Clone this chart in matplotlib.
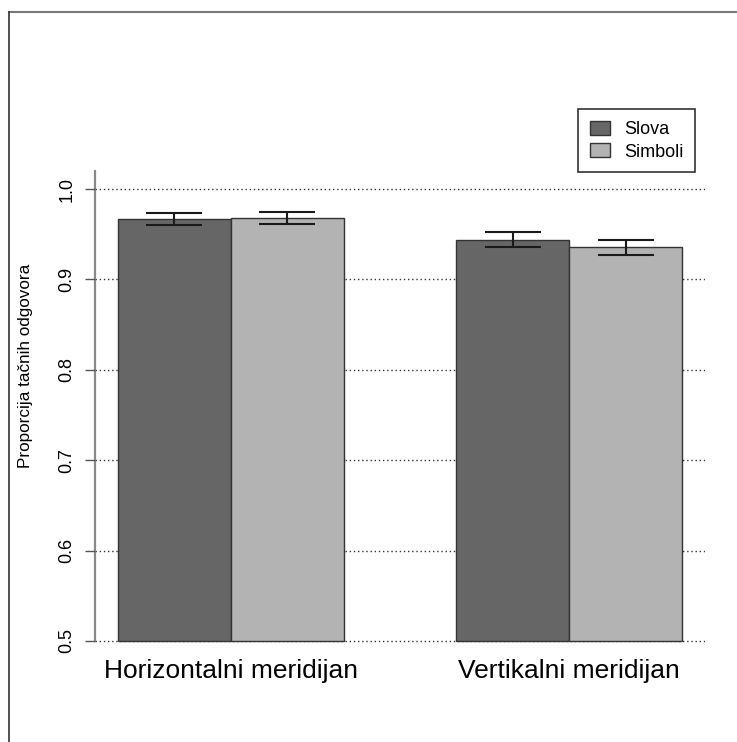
import numpy as np
import matplotlib
matplotlib.use("Agg")
import matplotlib.pyplot as plt
from matplotlib.patches import Patch
from matplotlib.lines import Line2D

plt.rcParams['font.family'] = ['Liberation Sans', 'DejaVu Sans']

# data
groups = ['Horizontalni meridijan', 'Vertikalni meridijan']
series = ['Slova', 'Simboli']
means = {'Slova': [0.967, 0.944], 'Simboli': [0.968, 0.9355]}
errs = {'Slova': [0.0063, 0.0081], 'Simboli': [0.0063, 0.0085]}
yticks = [0.5, 0.6, 0.7, 0.8, 0.9, 1.0]
colors = {'Slova': '#666666', 'Simboli': '#b3b3b3'}

W, H = 737, 742
fig = plt.figure(figsize=(W / 100, H / 100), dpi=100)
ax = fig.add_axes([95.4 / W, (H - 659) / H, (704.6 - 95.4) / W, (659 - 171) / H])
ax.set_xlim(0.8, 6.2)
ax.set_ylim(0.48, 1.02)

# dotted grid behind the bars
for yv in yticks:
    ax.axhline(yv, color='#333333', lw=1, ls=(0, (1, 2)), zorder=0)

# R barplot style positions: space=c(0,1)
for gi, g in enumerate(groups):
    for si, s in enumerate(series):
        left = 1 + gi * 3 + si
        ax.bar(left, means[s][gi] - 0.5, bottom=0.5, width=1, align='edge',
               color=colors[s], edgecolor='#333333', linewidth=1, zorder=2)
        ax.errorbar(left + 0.5, means[s][gi], yerr=errs[s][gi], fmt='none',
                    ecolor='#1a1a1a', elinewidth=1.5, capsize=20.5, capthick=1.5,
                    zorder=3)

for sp in ax.spines.values():
    sp.set_visible(False)
ax.add_line(Line2D([0.8, 0.8], [0.5, 1.02], color='#888888', lw=1.6,
                   transform=ax.transData, clip_on=False, zorder=1))
ax.set_yticks(yticks)
ax.set_yticklabels(['%.1f' % v for v in yticks], rotation=90, va='center',
                   fontsize=13)
ax.tick_params(axis='y', length=7.2, width=1, color='#555555', pad=7)
ax.set_xticks([])
ax.set_ylabel('Proporcija tačnih odgovora', fontsize=12.3)
ax.yaxis.set_label_coords((33 - 95.4) / 609.2, (659 - 366) / 488)

for gi, g in enumerate(groups):
    ax.text(2 + gi * 3, 0.48, g, ha='center', va='top', fontsize=19,
            transform=ax.transData)

handles = [Patch(facecolor=colors[s], edgecolor='#333333', lw=1) for s in series]
leg = ax.legend(handles, series, loc='upper left', fontsize=13,
                bbox_to_anchor=((578 - 95.4) / (704.6 - 95.4), (659 - 109) / (659 - 171)),
                frameon=True, fancybox=False, edgecolor='black',
                handlelength=1.1, handleheight=0.8, handletextpad=0.8,
                borderpad=0.65, labelspacing=0.3, borderaxespad=0)
leg.get_frame().set_linewidth(1.2)

# outer frame lines (top and left only)
fig.add_artist(Line2D([9 / W, 1], [1 - 12 / H, 1 - 12 / H], color='#777777', lw=1.5,
                      transform=fig.transFigure))
fig.add_artist(Line2D([9 / W, 9 / W], [0, 1 - 12 / H], color='#333333', lw=1.2,
                      transform=fig.transFigure))

fig.savefig('out.png', dpi=100)
